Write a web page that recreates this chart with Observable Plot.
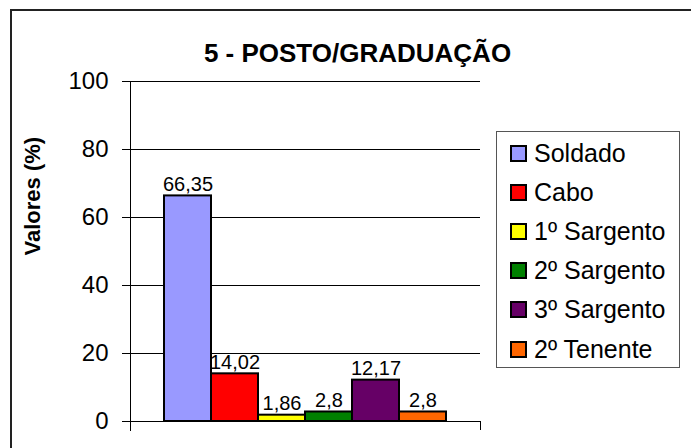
<!DOCTYPE html>
<html><head><meta charset="utf-8">
<script src="https://cdn.jsdelivr.net/npm/d3@7"></script>
<script src="https://cdn.jsdelivr.net/npm/@observablehq/plot@0.6"></script>
<style>
body{margin:0;background:#fff;font-family:"Liberation Sans",Arial,sans-serif;}
#wrap{position:relative;width:691px;height:448px;overflow:hidden;background:#fff;}
#border{position:absolute;left:10px;top:9px;width:720px;height:500px;border:2px solid #222;box-sizing:border-box;}
#chart{position:absolute;left:0;top:0;}
#legend{position:absolute;left:496px;top:131px;width:184px;height:237px;border:1px solid #555;box-sizing:border-box;background:#fff;}
.row{position:absolute;left:13px;display:flex;align-items:center;height:30px;font-size:25px;color:#000;white-space:nowrap;}
.sw{width:17px;height:17px;border:2px solid #000;box-sizing:border-box;margin-right:7px;}
</style></head>
<body>
<div id="wrap"><div id="border"></div><div id="chart"></div><div id="legend"></div></div>
<script>
const title = "5 - POSTO/GRADUAÇÃO";
const yLabel = "Valores (%)";
const categories = ["Soldado", "Cabo", "1º Sargento", "2º Sargento", "3º Sargento", "2º Tenente"];
const values = [66.35, 14.02, 1.86, 2.8, 12.17, 2.8];
const colors = ["#9999FF", "#FF0000", "#FFFF00", "#008000", "#660066", "#FF6600"];
const yTicks = [0, 20, 40, 60, 80, 100];

const data = categories.map((c, i) => ({name: c, value: values[i], label: String(values[i]).replace(".", ",")}));

const chart = Plot.plot({
  width: 691,
  height: 448,
  marginLeft: 130,
  marginRight: 211,
  marginTop: 81,
  marginBottom: 27,
  style: {fontFamily: "'Liberation Sans', Arial, sans-serif", background: "transparent", color: "#000"},
  x: {type: "band", domain: categories, paddingInner: 0, paddingOuter: 0.72, axis: null},
  y: {domain: [0, 100]},
  color: {domain: categories, range: colors},
  marks: [
    Plot.gridY(yTicks.filter(t => t > 0), {stroke: "#000", strokeOpacity: 1, strokeWidth: 1}),
    Plot.axisY({ticks: yTicks, tickSize: 8, tickPadding: 14, fontSize: 24, label: null, stroke: "#000"}),
    Plot.frame({anchor: "left", insetBottom: -9, stroke: "#000"}),
    Plot.frame({anchor: "right", insetTop: 340, insetBottom: -8, stroke: "#000"}),
    Plot.ruleY([0], {stroke: "#000"}),
    Plot.barY(data, {x: "name", y: "value", fill: "name", stroke: "#000", strokeWidth: 2, inset: 0}),
    Plot.text(data, {x: "name", y: "value", text: "label", fontSize: 20, dy: -5, lineAnchor: "bottom", fill: "#000"}),
    Plot.text([title], {frameAnchor: "top", dx: 52, dy: -38, fontSize: 26, fontWeight: "bold", fill: "#000"}),
    Plot.text([yLabel], {frameAnchor: "left", rotate: -90, dx: -98, dy: 4, fontSize: 22, fontWeight: "bold", fill: "#000"})
  ]
});
document.getElementById("chart").appendChild(chart);

const legend = document.getElementById("legend");
categories.forEach((c, i) => {
  const row = document.createElement("div");
  row.className = "row";
  row.style.top = (6 + i * 39.2) + "px";
  const sw = document.createElement("div");
  sw.className = "sw";
  sw.style.background = colors[i];
  const t = document.createElement("span");
  t.textContent = c;
  row.appendChild(sw);
  row.appendChild(t);
  legend.appendChild(row);
});
</script>
</body></html>
